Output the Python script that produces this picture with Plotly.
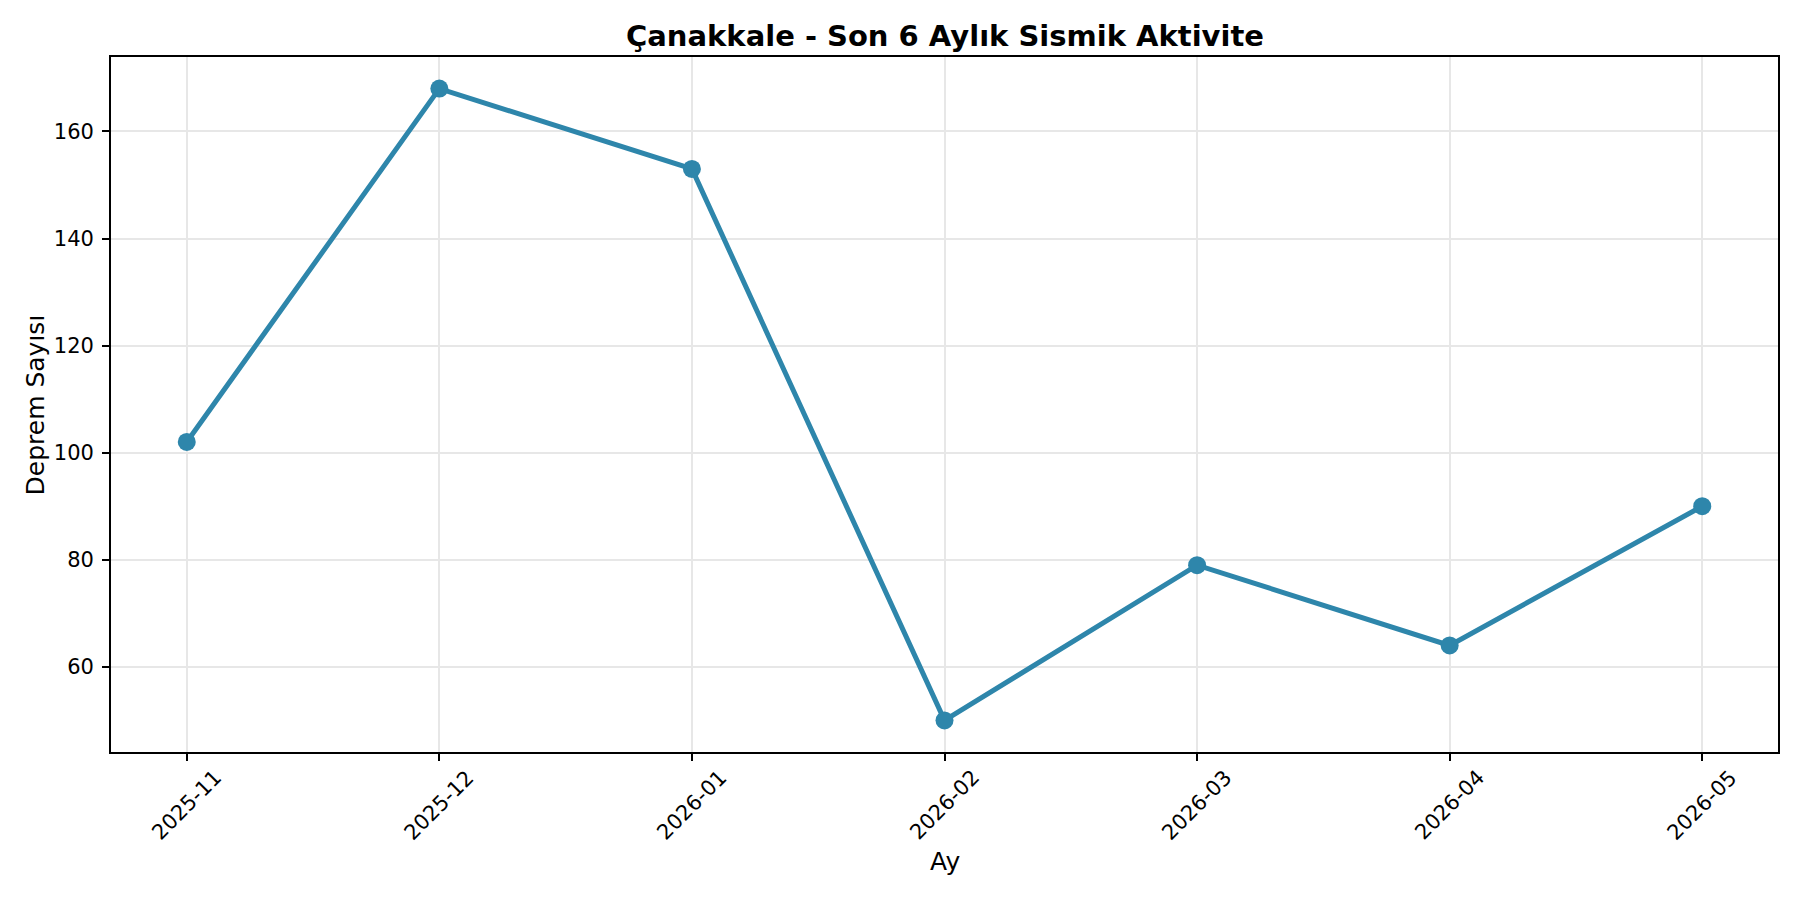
import plotly.graph_objects as go

months = ["2025-11", "2025-12", "2026-01", "2026-02", "2026-03", "2026-04", "2026-05"]
counts = [102, 168, 153, 50, 79, 64, 90]
y_ticks = [60, 80, 100, 120, 140, 160]

title_text = "Çanakkale - Son 6 Aylık Sismik Aktivite"
x_label = "Ay"
y_label = "Deprem Sayısı"

FONT = "DejaVu Sans"
LINE_COLOR = "#2E86AB"
GRID = "#e7e7e7"

fig = go.Figure()
fig.add_trace(go.Scatter(
    x=months, y=counts, mode="lines+markers",
    line=dict(color=LINE_COLOR, width=5),
    marker=dict(color=LINE_COLOR, size=18),
    showlegend=False,
))

ymin, ymax = min(counts), max(counts)
pad = (ymax - ymin) * 0.05

annotations = [
    dict(text="<b>" + title_text + "</b>", xref="paper", yref="paper",
         x=0.5, y=1.030, xanchor="center", yanchor="middle",
         showarrow=False, font=dict(size=29, family=FONT, color="black")),
    dict(text=x_label, xref="paper", yref="paper",
         x=0.5, y=-0.157, xanchor="center", yanchor="middle",
         showarrow=False, font=dict(size=25, family=FONT, color="black")),
    dict(text=y_label, xref="paper", yref="paper",
         x=-0.045, y=0.5, xanchor="center", yanchor="middle", textangle=-90,
         showarrow=False, font=dict(size=25, family=FONT, color="black")),
]
# rotated x tick labels centred on their ticks (as in the original)
for m in months:
    annotations.append(dict(
        text=m, xref="x", yref="paper", x=m, y=-0.0763,
        xanchor="center", yanchor="middle", textangle=-45,
        showarrow=False, font=dict(size=21, family=FONT, color="black"),
    ))

fig.update_layout(
    width=1784, height=884,
    margin=dict(l=103, r=14, t=49, b=140),
    paper_bgcolor="white", plot_bgcolor="white",
    font=dict(family=FONT, color="black", size=21),
    xaxis=dict(
        type="category", range=[-0.3, len(months) - 0.7],
        showticklabels=False,
        showgrid=True, gridcolor=GRID, gridwidth=1.7,
        showline=True, linecolor="black", linewidth=1.7, mirror=True,
        ticks="outside", ticklen=7, tickwidth=1.7, tickcolor="black",
        zeroline=False,
    ),
    yaxis=dict(
        range=[ymin - pad, ymax + pad],
        tickvals=y_ticks, tickfont=dict(size=21, family=FONT),
        showgrid=True, gridcolor=GRID, gridwidth=1.7,
        showline=True, linecolor="black", linewidth=1.7, mirror=True,
        ticks="outside", ticklen=7, tickwidth=1.7, tickcolor="black",
        ticklabelstandoff=4, zeroline=False,
    ),
    annotations=annotations,
)

fig.write_html("out.html")
